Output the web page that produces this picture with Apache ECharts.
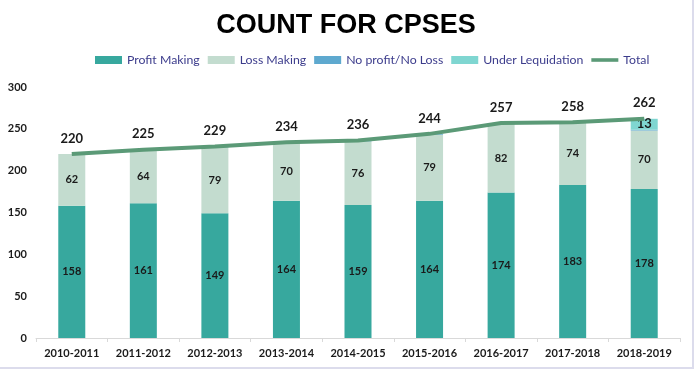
<!DOCTYPE html>
<html>
<head>
<meta charset="utf-8">
<script src="https://cdn.jsdelivr.net/npm/echarts@6/dist/echarts.min.js"></script>
<style>
html,body{margin:0;padding:0;background:#fff;}
#wrap{position:absolute;left:0;top:0;width:692px;height:367px;border-right:2px solid #dcdcec;border-bottom:2px solid #dcdcec;background:#fff;}
#chart{width:692px;height:367px;}
</style>
</head>
<body>
<div id="wrap"><div id="chart"></div></div>
<script>
const categories = ['2010-2011','2011-2012','2012-2013','2013-2014','2014-2015','2015-2016','2016-2017','2017-2018','2018-2019'];
const profitMaking = [158,161,149,164,159,164,174,183,178];
const lossMaking = [62,64,79,70,76,79,82,74,70];
const noProfitNoLoss = [0,0,1,0,1,1,1,1,1];
const underLiquidation = [0,0,0,0,0,0,0,0,13];
const total = [220,225,229,234,236,244,257,258,262];
const yTicks = [0,50,100,150,200,250,300];

const chart = echarts.init(document.getElementById('chart'));
const inLabel = {
  show: true, position: 'inside', color: '#1a1a1a', fontWeight: 'bold',
  fontFamily: 'Lato', fontSize: 11,
  formatter: p => (p.value ? p.value : '')
};
chart.setOption({
  animation: false,
  backgroundColor: '#fff',
  title: {
    text: 'COUNT FOR CPSES', left: 'center', top: 7,
    textStyle: {fontFamily: 'Liberation Sans', fontWeight: 'bold', fontSize: 27, color: '#000'}
  },
  legend: {
    left: 95, top: 54, padding: 0, itemWidth: 27, itemHeight: 8, itemGap: 8,
    textStyle: {fontFamily: 'Lato', fontSize: 12.3, color: '#3c3c8c'},
    data: [
      {name: 'Profit Making', icon: 'rect'},
      {name: 'Loss Making', icon: 'rect'},
      {name: 'No profit/No Loss', icon: 'rect'},
      {name: 'Under Lequidation', icon: 'rect'},
      {name: 'Total', icon: 'path://M0,0 L30,0 L30,4 L0,4 Z'}
    ]
  },
  grid: {left: 36, right: 12, top: 87, bottom: 29},
  xAxis: {
    type: 'category', data: categories,
    axisLine: {lineStyle: {color: '#d9d9d9'}},
    axisTick: {show: true, alignWithLabel: false, length: 4, interval: 0, lineStyle: {color: '#d9d9d9'}},
    axisLabel: {color: '#1a1a1a', fontWeight: 'bold', fontFamily: 'Lato', fontSize: 11, margin: 10, interval: 0}
  },
  yAxis: {
    type: 'value', min: yTicks[0], max: yTicks[yTicks.length-1], interval: 50,
    splitLine: {show: false}, axisLine: {show: false}, axisTick: {show: false},
    axisLabel: {color: '#1a1a1a', fontWeight: 'bold', fontFamily: 'Lato', fontSize: 11, margin: 9}
  },
  series: [
    {name: 'Profit Making', type: 'bar', stack: 's', barWidth: 27, data: profitMaking,
     itemStyle: {color: '#37a89e'}, label: inLabel},
    {name: 'Loss Making', type: 'bar', stack: 's', data: lossMaking,
     itemStyle: {color: '#c3dccf'}, label: inLabel},
    {name: 'No profit/No Loss', type: 'bar', stack: 's', data: noProfitNoLoss,
     itemStyle: {color: '#5ea9cf'}, label: {show: false}},
    {name: 'Under Lequidation', type: 'bar', stack: 's', data: underLiquidation,
     itemStyle: {color: '#7fd6d1'}, label: Object.assign({}, inLabel, {fontSize: 13})},
    {name: 'Total', type: 'line', data: total, symbol: 'circle', symbolSize: 0,
     lineStyle: {color: '#5b9a77', width: 4}, itemStyle: {color: '#5b9a77'},
     label: {show: true, position: 'top', distance: 9, color: '#1a1a1a', fontWeight: 'bold', fontFamily: 'Lato', fontSize: 13}}
  ]
});
</script>
</body>
</html>
